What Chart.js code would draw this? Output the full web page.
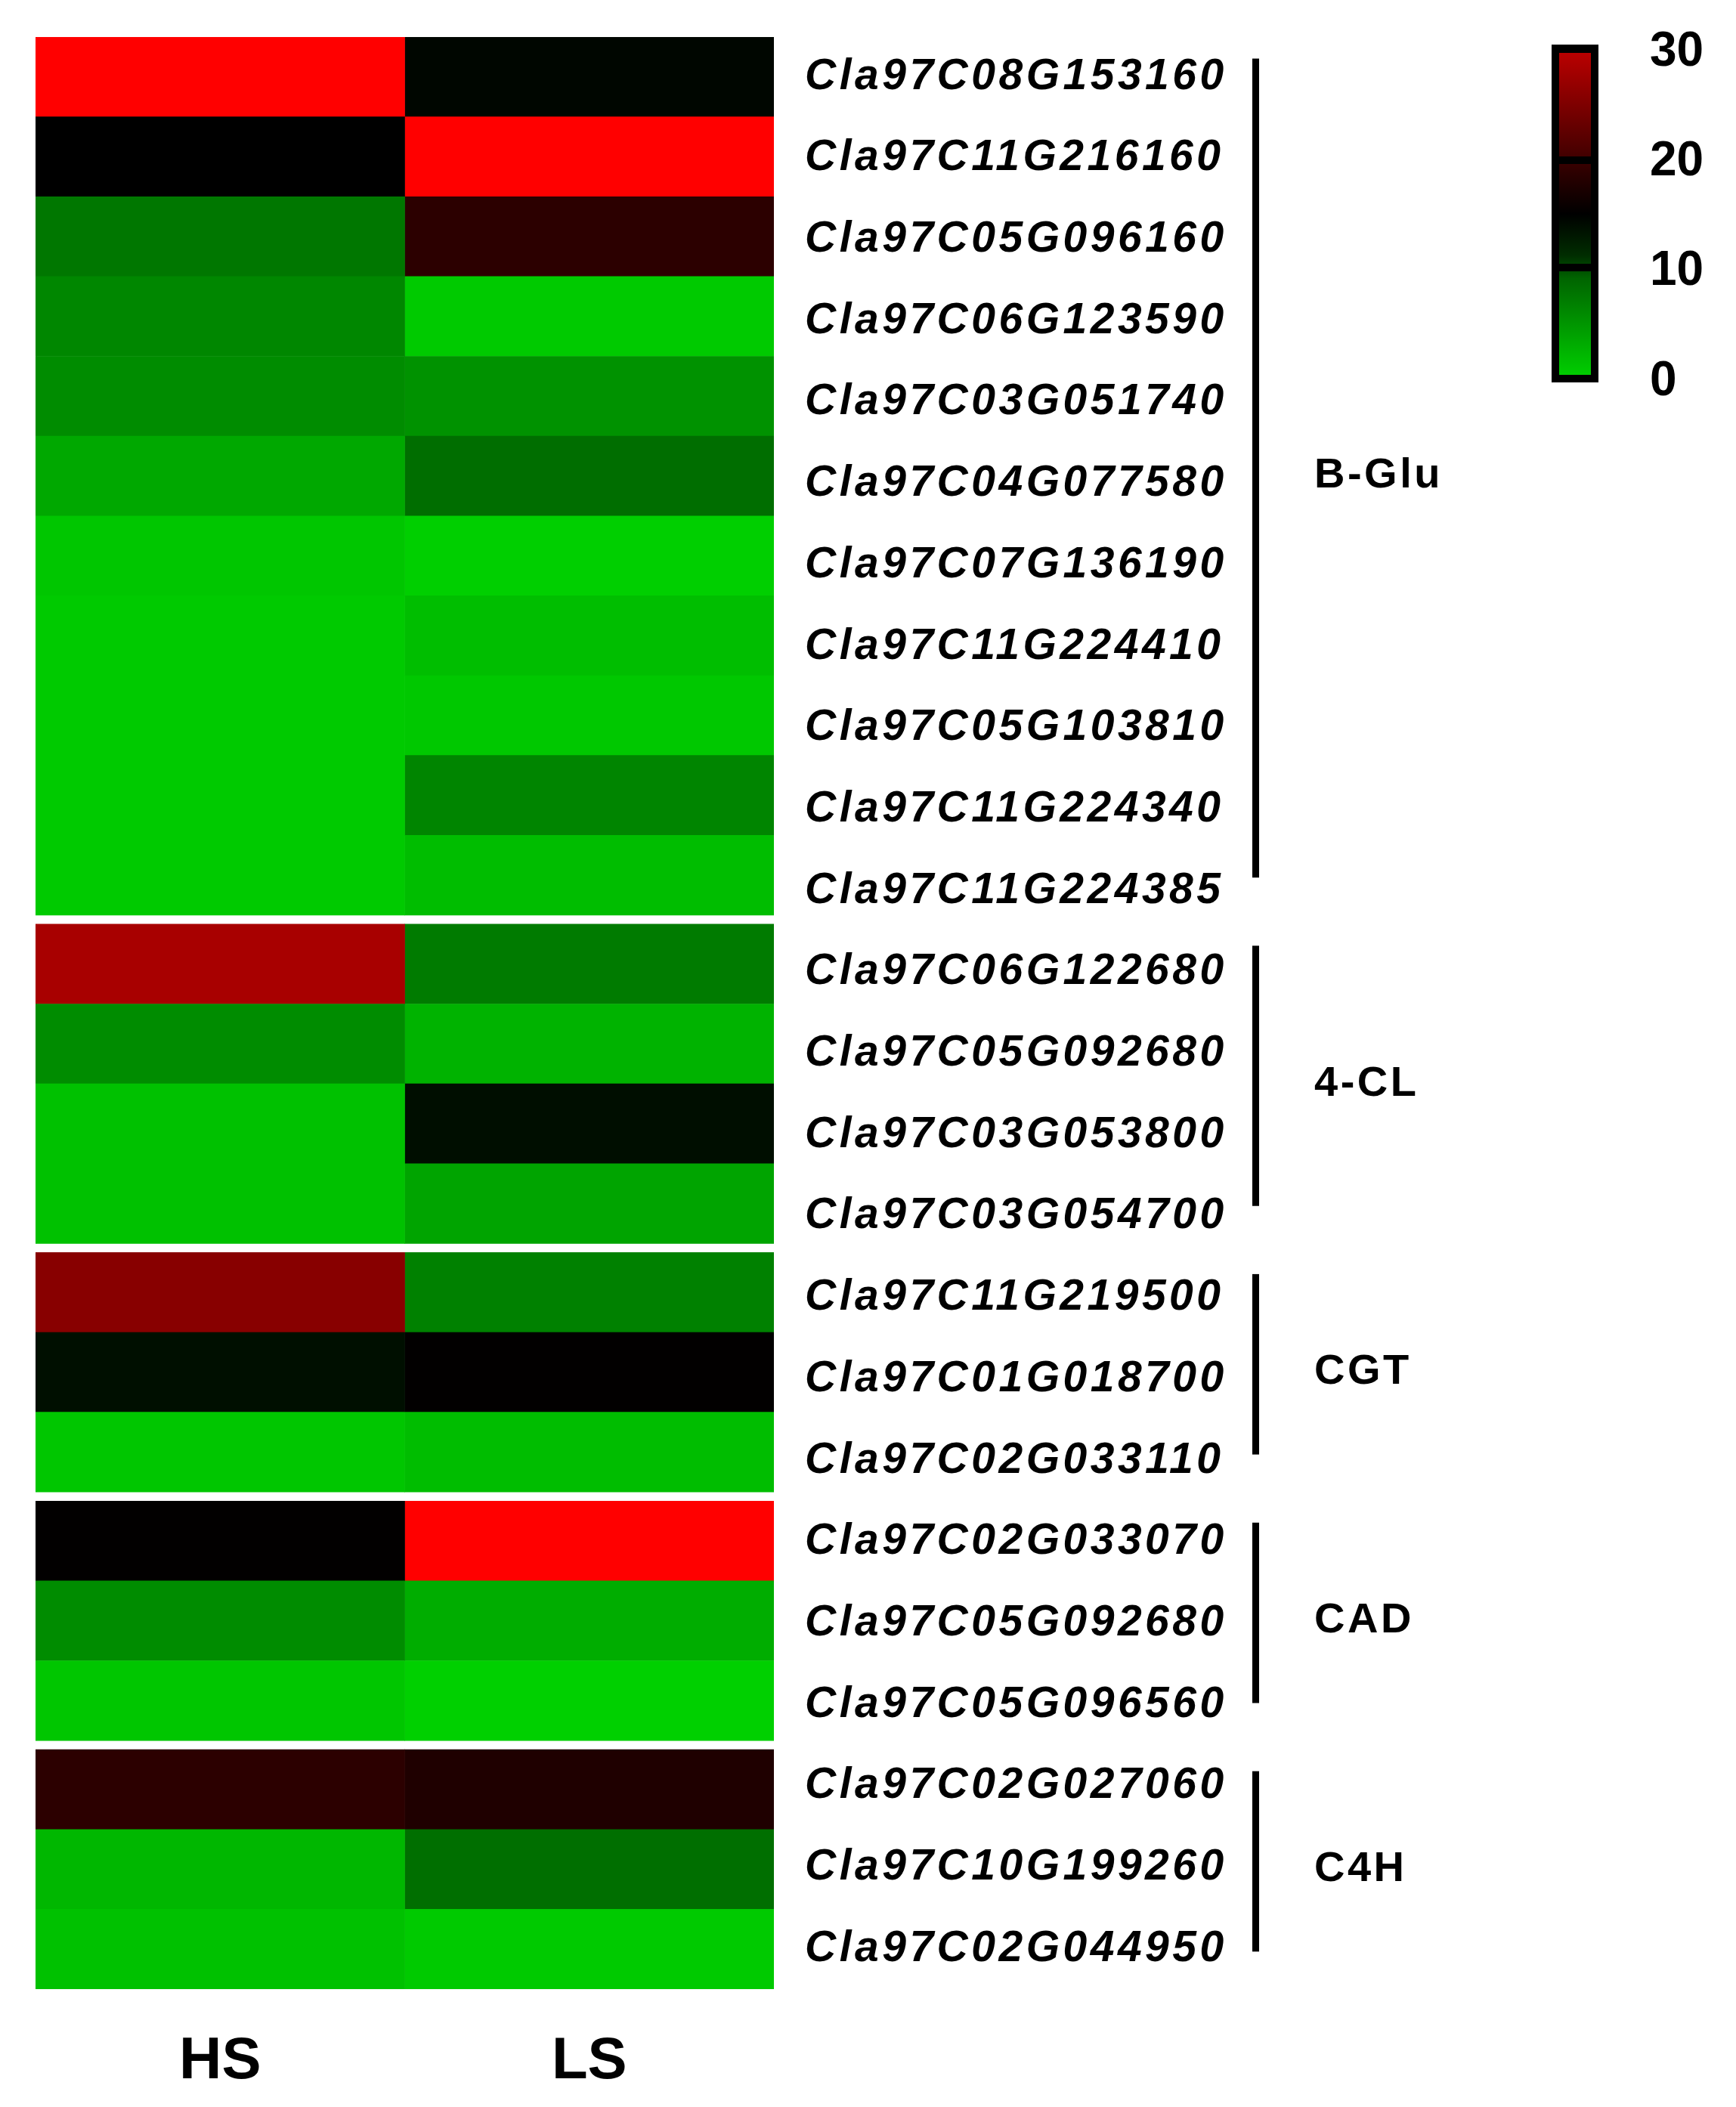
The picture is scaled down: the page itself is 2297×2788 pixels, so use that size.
<!DOCTYPE html>
<html><head><meta charset="utf-8">
<script src="https://cdn.jsdelivr.net/npm/chart.js@4.4.1/dist/chart.umd.min.js"></script>
<style>html,body{margin:0;padding:0;background:#fff;}</style>
</head><body>
<canvas id="c" width="2297" height="2788" style="width:2297px;height:2788px;display:block"></canvas>
<script>
// ---------------- data ----------------
const genes = [
  'Cla97C08G153160','Cla97C11G216160','Cla97C05G096160','Cla97C06G123590','Cla97C03G051740',
  'Cla97C04G077580','Cla97C07G136190','Cla97C11G224410','Cla97C05G103810','Cla97C11G224340',
  'Cla97C11G224385',
  'Cla97C06G122680','Cla97C05G092680','Cla97C03G053800','Cla97C03G054700',
  'Cla97C11G219500','Cla97C01G018700','Cla97C02G033110',
  'Cla97C02G033070','Cla97C05G092680','Cla97C05G096560',
  'Cla97C02G027060','Cla97C10G199260','Cla97C02G044950'
];
const groupNames = ['B-Glu','4-CL','CGT','CAD','C4H'];
const groupCounts = [11, 4, 3, 3, 3];
const columns = ['HS','LS'];
const hsValues = [30, 15, 6.4, 5.3, 4.9, 2.9, 0.7, 0.4, 0.4, 0.4, 0.4,
                  24.9, 4.9, 1.1, 1.1,
                  23.0, 13.9, 0.7,
                  15.1, 4.9, 0.7,
                  17.6, 1.8, 1.1];
const lsValues = [14.6, 30, 17.6, 0.4, 4.5, 7.1, 0.1, 1.3, 0.6, 5.4, 1.4,
                  6.1, 2.1, 14.0, 3.2,
                  5.7, 15.1, 1.4,
                  30, 2.5, 0.0,
                  16.8, 7.0, 0.4];
const colorbarTicks = [0, 10, 20, 30];
const valueMin = 0, valueMid = 15, valueMax = 30;

// ---------------- helpers ----------------
const GAP = 0.1136; // white gap between gene groups, in row units
const rowGroup = [];
groupCounts.forEach((n, g) => { for (let k = 0; k < n; k++) rowGroup.push(g); });
const rowPos = genes.map((_, i) => i + rowGroup[i] * GAP);
// gene names are spaced evenly from the first to the last row (they ignore the group gaps)
const firstPos = rowPos[0], lastPos = rowPos[rowPos.length - 1];
const labelStep = (lastPos - firstPos) / (genes.length - 1);
const labelPos = genes.map((_, i) => firstPos + i * labelStep);

function cellColor(v) {
  if (v <= valueMid) {
    const t = (valueMid - v) / (valueMid - valueMin);
    return `rgb(0,${Math.round(208 * t)},0)`;
  }
  const t = (v - valueMid) / (valueMax - valueMid);
  return `rgb(${Math.round(255 * t)},0,0)`;
}
const FONT = 'Liberation Sans, Arial, sans-serif';

const decorPlugin = {
  id: 'decor',
  afterDatasetsDraw(chart) { chart.ctx.letterSpacing = '4.5px'; },
  afterDraw(chart) {
    const ctx = chart.ctx;
    const ys = chart.scales.y;
    ctx.save();
    ctx.letterSpacing = '0px';
    // group brackets + names
    let start = 0;
    groupCounts.forEach((n, g) => {
      const a = rowPos[start], b = rowPos[start + n - 1];
      const y1 = ys.getPixelForValue(a - 0.23);
      const y2 = ys.getPixelForValue(b + 0.03);
      ctx.fillStyle = '#000';
      ctx.fillRect(1657, y1, 9, y2 - y1);
      const yc = (ys.getPixelForValue(a - 0.5) + ys.getPixelForValue(b + 0.5)) / 2;
      ctx.font = `bold 56px ${FONT}`;
      ctx.letterSpacing = '3.5px';
      ctx.textAlign = 'left';
      ctx.textBaseline = 'middle';
      ctx.fillText(groupNames[g], 1739, yc);
      ctx.letterSpacing = '0px';
      start += n;
    });
    // colour bar
    const cbTop = 70, cbBot = 496, cbL = 2063, cbR = 2105;
    const vy = v => cbBot - (v - valueMin) / (valueMax - valueMin) * (cbBot - cbTop);
    ctx.fillStyle = '#000';
    ctx.fillRect(cbL - 10, cbTop - 11, (cbR - cbL) + 20, (cbBot - cbTop) + 21);
    const grad = ctx.createLinearGradient(0, cbBot, 0, cbTop);
    grad.addColorStop(0.0, 'rgb(0,205,0)');
    grad.addColorStop(0.3, 'rgb(0,100,0)');
    grad.addColorStop(0.37, 'rgb(0,45,0)');
    grad.addColorStop(0.5, 'rgb(0,0,0)');
    grad.addColorStop(0.63, 'rgb(45,0,0)');
    grad.addColorStop(0.7, 'rgb(75,0,0)');
    grad.addColorStop(1.0, 'rgb(185,0,0)');
    ctx.fillStyle = grad;
    ctx.fillRect(cbL, cbTop, cbR - cbL, cbBot - cbTop);
    ctx.fillStyle = '#000';
    [10, 20].forEach(v => { ctx.fillRect(cbL, vy(v) - 5, cbR - cbL, 10); });
    ctx.font = `bold 64px ${FONT}`;
    ctx.textAlign = 'left';
    ctx.textBaseline = 'middle';
    colorbarTicks.forEach(v => { ctx.fillText(String(v), 2183, 505 - (v - valueMin) / (valueMax - valueMin) * 436); });
    ctx.restore();
  }
};

new Chart(document.getElementById('c'), {
  type: 'bar',
  data: {
    datasets: columns.map((col, c) => ({
      label: col,
      data: rowPos.map(p => ({ y: p, x: [c, c + 1] })),
      backgroundColor: (c === 0 ? hsValues : lsValues).map(cellColor),
      borderWidth: 0,
      grouped: false,
      barPercentage: 1,
      categoryPercentage: 1
    }))
  },
  options: {
    indexAxis: 'y',
    responsive: false,
    animation: false,
    devicePixelRatio: 1,
    layout: { padding: { left: 47, top: 49, right: 0, bottom: 0 } },
    plugins: { legend: { display: false }, tooltip: { enabled: false } },
    scales: {
      x: {
        type: 'linear', position: 'bottom', min: 0, max: columns.length, offset: false, bounds: 'data',
        grid: { display: false, drawTicks: false, offset: false }, border: { display: false },
        afterBuildTicks: s => { s.ticks = columns.map((_, i) => ({ value: i + 0.5 })); },
        ticks: { callback: (v, i) => columns[i], font: { family: FONT, weight: 'bold', size: 78 },
                 color: '#000', padding: 50, maxRotation: 0, autoSkip: false },
        afterFit: s => { s.height = 156; s.paddingLeft = 0; s.paddingRight = 0; }
      },
      y: {
        type: 'linear', position: 'right', reverse: true, offset: false, bounds: 'data',
        min: firstPos - 0.5, max: lastPos + 0.5,
        grid: { display: false, drawTicks: false, offset: false }, border: { display: false },
        afterBuildTicks: s => { s.ticks = labelPos.map(v => ({ value: v })); },
        ticks: { callback: (v, i) => genes[i], font: { family: FONT, weight: 'bold', style: 'italic', size: 57 },
                 color: '#000', padding: 41, autoSkip: false, z: 1 },
        afterFit: s => { s.width = 1273; s.paddingTop = 0; s.paddingBottom = 0; }
      }
    }
  },
  plugins: [decorPlugin]
});
</script>
</body></html>
